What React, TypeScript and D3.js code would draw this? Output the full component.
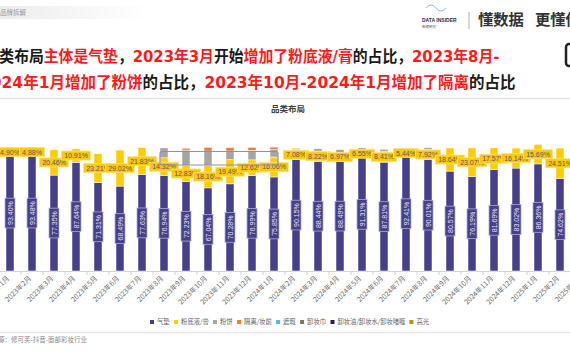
import React from 'react';
import * as d3 from 'd3';

// months on the x axis (last one is cut off at the right edge)
const months = [
  '2023年1月', '2023年2月', '2023年3月', '2023年4月', '2023年5月', '2023年6月',
  '2023年7月', '2023年8月', '2023年9月', '2023年10月', '2023年11月', '2023年12月',
  '2024年1月', '2024年2月', '2024年3月', '2024年4月', '2024年5月', '2024年6月',
  '2024年7月', '2024年8月', '2024年9月', '2024年10月', '2024年11月', '2024年12月',
  '2025年1月', '2025年2月', '2025年3月',
];

const seriesNames = ['气垫', '粉底液/膏', '粉饼', '隔离/妆前', '遮瑕', '卸妆巾', '卸妆油/卸妆水/卸妆啫喱', '高光'];
const seriesColors = ['#46408a', '#ffcc00', '#a5a5a5', '#ed7d31', '#5bb8d8', '#7f7a5a', '#26264a', '#b8900f'];

// shares in %
const qidian = [93.40, 93.48, 77.35, 87.64, 71.31, 68.49, 77.63, 76.94, 72.23, 67.04, 70.28, 76.99, 75.85,
  90.15, 88.44, 88.49, 91.31, 87.81, 92.41, 90.01, 80.57, 76.19, 81.69, 83.02, 86.36, 74.62];
const fendiye = [4.90, 4.88, 20.46, 10.91, 23.21, 29.02, 21.83, 14.32, 12.83, 18.16, 19.49, 12.62, 16.06,
  7.08, 8.22, 6.97, 6.55, 8.41, 5.44, 7.92, 18.64, 23.07, 17.57, 16.14, 15.69, 24.51];
const fenbing = [1.2, 1.2, 0, 0, 0, 0, 0, 8.0, 12.5, 11.5, 7.0, 7.6, 6.0,
  1.0, 2.0, 2.5, 1.5, 2.0, 0, 1.5, 0, 0, 0, 0, 0, 0];
const geli = [0, 0, 0, 0, 0, 0, 0, 0, 1.5, 3.0, 2.8, 2.5, 2.0,
  0.8, 0, 0, 0, 0, 0, 0, 0, 0, 0, 0, 0, 0];
const zhexia = [0, 0, 0, 0, 0, 0, 0, 0, 0, 0, 0, 0, 0, 0, 0, 0, 0, 0, 0, 0, 0, 0, 0, 0, 0, 0];
const xiezhuangjin = [0, 0, 0, 0, 0, 0, 0, 0, 0, 0, 0, 0, 0, 0, 0, 0, 0, 0, 0, 0, 0, 0, 0, 0, 0, 0];
const xiezhuangyou = [0.4, 0.4, 0, 0, 0, 0, 0, 0, 0, 0, 0, 0, 0, 0, 0, 0, 0, 0, 0, 0, 0, 0, 0, 0, 0, 0];
const gaoguang = [0, 0, 0, 0, 0, 0, 0, 0, 0, 0, 0, 0, 0, 0, 0, 0, 0, 0, 0, 0, 0, 0, 0, 0, 0, 0];

const allSeries = [qidian, fendiye, fenbing, geli, zhexia, xiezhuangjin, xiezhuangyou, gaoguang];

// highlighted months (grey box)
const boxFrom = '2023年8月';
const boxTo = '2024年1月';

const W = 570;
const H = 360;
const CJK = '"Noto Sans CJK SC", sans-serif';
const NUM = '"Liberation Sans", Arial, sans-serif';
const HEAD = '"DejaVu Sans", "Noto Sans CJK SC", sans-serif';

// rough width of a percent label
const numWidth = (s: string, fs: number) => {
  let w = 0;
  for (const ch of s) {
    if (ch === '.') w += 0.278;
    else if (ch === '%') w += 0.889;
    else w += 0.556;
  }
  return w * fs;
};

const cjkWidth = (s: string, fs: number) => {
  let w = 0;
  for (const ch of s) w += ch === '/' ? 0.35 : 1;
  return w * fs;
};

export default function App() {
  const x = d3.scaleBand<string>()
    .domain(months)
    .range([-1, -1 + 22 * months.length])
    .paddingInner(0.636)
    .paddingOuter(0.318);
  const y = d3.scaleLinear().domain([0, 100]).range([271, 147]);

  const rows = qidian.map((_, i) => {
    const r: Record<string, any> = { month: months[i] };
    seriesNames.forEach((n, k) => { r[n] = allSeries[k][i]; });
    return r;
  });
  const stacked = d3.stack<any>().keys(seriesNames)(rows);

  const bw = x.bandwidth();
  const fmt = (v: number) => v.toFixed(2) + '%';

  // legend layout
  const legFs = 6.3;
  let lx = 150;
  const legend = seriesNames.map((n, k) => {
    const item = { name: n, color: seriesColors[k], x: lx };
    lx += 4 + 3 + cjkWidth(n, legFs) + 4.5;
    return item;
  });

  const bx0 = (x(boxFrom) ?? 0);
  const bx1 = (x(boxTo) ?? 0) + bw;

  return (
    <svg width={W} height={H} style={{ position: 'absolute', left: 0, top: 0, background: '#fff' }}>
      <defs>
        <linearGradient id="topband" x1="0" x2="1" y1="0" y2="0">
          <stop offset="0%" stopColor="#ececec" />
          <stop offset="100%" stopColor="#ffffff" />
        </linearGradient>
      </defs>

      {/* header */}
      <rect x={0} y={6} width={150} height={13} fill="url(#topband)" />
      <text x={0} y={15} fontSize={6.5} fill="#9a9a9a" fontFamily={CJK}>品牌拆解</text>
      <g>
        <path d="M426,8 q5,-6 10,0 q5,6 10,0" fill="none" stroke="#7fa6c8" strokeWidth={0.8} />
        <text x={422} y={22} fontSize={5} fill="#2b2b4a" fontFamily={NUM} fontWeight={700}>DATA INSIDER</text>
        <text x={422} y={28} fontSize={3.5} fill="#555" fontFamily={CJK}>新榜研究</text>
        <line x1={469} x2={469} y1={12} y2={29} stroke="#999" strokeWidth={0.8} />
        <text y={25} fontSize={15.3} fill="#333" fontFamily={CJK} fontWeight={700}>
          <tspan x={478}>懂数据</tspan>
          <tspan x={535}>更懂你</tspan>
        </text>
      </g>
      <rect x={566} y={44} width={20} height={22} rx={3} fill="none" stroke="#222" strokeWidth={2.5} />

      {/* headline */}
      <g transform="translate(-15.5,62) scale(0.957,1)">
        <text x={0} y={0} fontSize={15.5} fontWeight={700} fontFamily={HEAD} fill="#1a1a1a">
          <tspan>品类布局</tspan>
          <tspan fill="#ff1a1a">主体是气垫</tspan>
          <tspan>，</tspan>
          <tspan fill="#ff1a1a">2023年3月</tspan>
          <tspan>开始</tspan>
          <tspan fill="#ff1a1a">增加了粉底液/膏</tspan>
          <tspan>的占比，</tspan>
          <tspan fill="#ff1a1a">2023年8月-</tspan>
        </text>
      </g>
      <text x={-20} y={88} fontSize={15.5} fontWeight={700} fontFamily={HEAD} fill="#1a1a1a">
        <tspan fill="#ff1a1a">2024年1月增加了粉饼</tspan>
        <tspan>的占比，</tspan>
        <tspan fill="#ff1a1a">2023年10月-2024年1月增加了隔离</tspan>
        <tspan>的占比</tspan>
      </text>
      <line x1={0} x2={W} y1={98.5} y2={98.5} stroke="#e3e3e3" strokeWidth={1.5} />

      {/* chart title */}
      <text x={288} y={112} textAnchor="middle" fontSize={8.5} fontWeight={700} fill="#404040" fontFamily={CJK}>品类布局</text>

      {/* axis */}
      <line x1={-1} x2={W + 30} y1={271.5} y2={271.5} stroke="#d4d4d4" />
      {months.map((m) => (
        <line key={'t' + m} x1={(x(m) ?? 0) - (x.step() - bw) / 2} x2={(x(m) ?? 0) - (x.step() - bw) / 2}
          y1={271.5} y2={275} stroke="#d4d4d4" />
      ))}
      {months.map((m) => {
        const cx = (x(m) ?? 0) + bw / 2 - 2;
        return (
          <text key={'l' + m} transform={`translate(${cx},277) rotate(-45)`} textAnchor="end" dy="0.35em"
            fontSize={7} fill="#6b6b6b" fontFamily={CJK}>{m}</text>
        );
      })}

      {/* stacked bars */}
      {stacked.map((s, k) => (
        <g key={s.key} fill={seriesColors[k]}>
          {s.map((d, i) => (d[1] - d[0] > 0 ? (
            <rect key={i} x={x(months[i])} width={bw} y={y(d[1])} height={y(d[0]) - y(d[1])}
              stroke="#fff" strokeWidth={0.5} />
          ) : null))}
        </g>
      ))}

      {/* 气垫 labels, vertical */}
      {stacked[0].map((d, i) => {
        const cx = (x(months[i]) ?? 0) + bw / 2;
        const cy = (y(d[0]) + y(d[1])) / 2;
        const t = fmt(qidian[i]);
        const len = numWidth(t, 7) + 6;
        return (
          <g key={'q' + i} transform={`translate(${cx},${cy}) rotate(-90)`}>
            <rect x={-len / 2} y={-5} width={len} height={10} fill="#46408a" stroke="#aeaad6" strokeWidth={0.8} />
            <text textAnchor="middle" y={2.5} fontSize={7} fill="#e4e2f4" fontFamily={NUM}>{t}</text>
          </g>
        );
      })}

      {/* 粉底液/膏 labels, horizontal */}
      {stacked[1].map((d, i) => {
        const cx = (x(months[i]) ?? 0) + bw / 2;
        const cy = (y(d[0]) + y(d[1])) / 2;
        const t = fmt(fendiye[i]);
        const len = numWidth(t, 7) + 5;
        return (
          <g key={'f' + i} transform={`translate(${cx},${cy})`}>
            <rect x={-len / 2} y={-4.5} width={len} height={9} fill="#fcc80a" stroke="#fde27a" strokeWidth={0.8} />
            <text textAnchor="middle" y={2.5} fontSize={7} fill="#5a5a5a" fontFamily={NUM}>{t}</text>
          </g>
        );
      })}

      {/* highlight box */}
      <rect x={bx0} y={151.5} width={bx1 - bx0} height={13.5} rx={2} fill="none" stroke="#8d8fb0" strokeWidth={1.2} />

      {/* legend */}
      {legend.map((l) => (
        <g key={l.name} transform={`translate(${l.x},322)`}>
          <rect x={0} y={-2} width={4} height={4} fill={l.color} />
          <text x={7} y={2.3} fontSize={legFs} fill="#5f5f5f" fontFamily={CJK}>{l.name}</text>
        </g>
      ))}

      {/* footer */}
      <line x1={0} x2={W} y1={332.5} y2={332.5} stroke="#e6e6e6" strokeWidth={1.5} />
      <text x={-21.5} y={341.5} fontSize={6.5} fill="#8a8a8a" fontFamily={CJK}>数据来源：修可芙-抖音-面部彩妆行业</text>
    </svg>
  );
}
